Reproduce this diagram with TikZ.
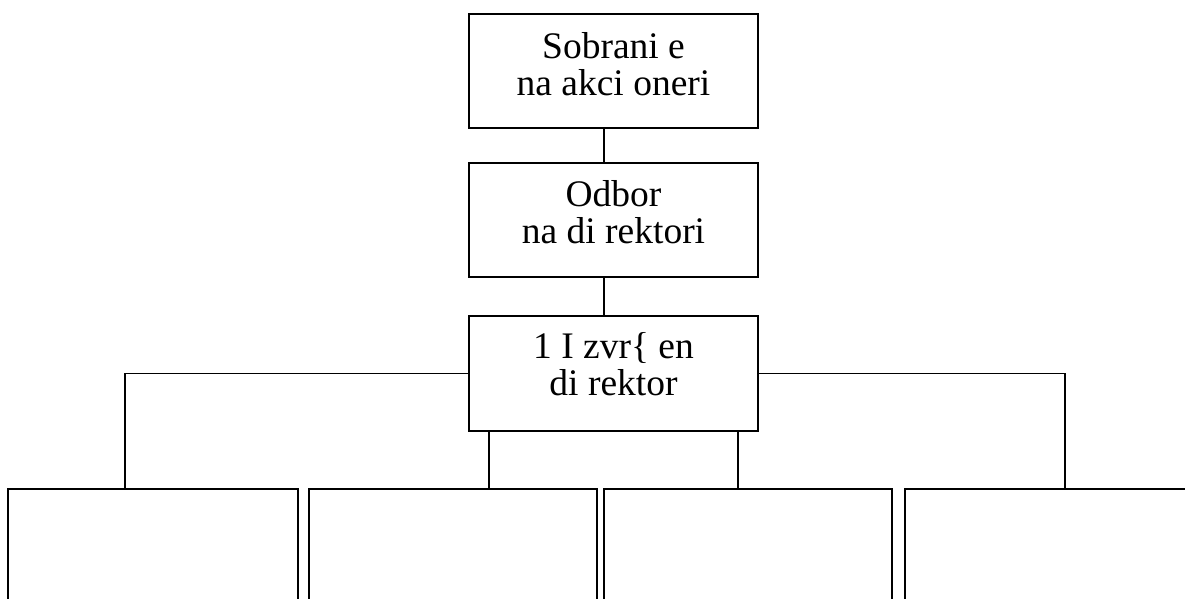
\documentclass[tikz,border=0pt]{standalone}
\usepackage{fontspec}
\setmainfont{Liberation Serif}

\begin{document}
\begin{tikzpicture}
[-,x=1pt,y=-1pt,line width=1.9pt,%
  every node/.style={shape=rectangle,inner sep=0pt},%
  box/.style={draw,minimum width=289pt,minimum height=114pt},%
  lowbox/.style={draw,minimum width=289pt,minimum height=160pt},%
  lbl/.style={align=center,font=\fontsize{37.5}{37}\selectfont}]
\useasboundingbox (0,0) rectangle (1185,599);
\clip (0,0) rectangle (1185,599);
% upper chain
\node[box] (sobranie) at (613.5,71) {};
\node[lbl] (sobranie-t) at ([yshift=7pt]sobranie.center) {Sobrani e\\na akci oneri};
\node[box] (odbor) at (613.5,220) {};
\node[lbl] (odbor-t) at ([yshift=8pt]odbor.center) {Odbor\\na di rektori};
\node[box,minimum height=115pt] (izvrsen) at (613.5,373.5) {};
\node[lbl] (izvrsen-t) at ([yshift=9pt]izvrsen.center) {1 I zvr\{ en\\di rektor};
% lower row
\node[lowbox,minimum width=290pt] (sektorA) at (153,569) {};
\node[lowbox,minimum width=288pt] (sektorB) at (453,569) {};
\node[lowbox,minimum width=288pt] (sektorC) at (748,569) {};
\node[lowbox,minimum width=290pt] (sektorD) at (1050,569) {};
% connectors
\draw ([xshift=-9.5pt]sobranie.south) -- ([xshift=-9.5pt]odbor.north);
\draw ([xshift=-9.5pt]odbor.south) -- ([xshift=-9.5pt]izvrsen.north);
\draw (izvrsen.west) -| ([xshift=-28pt]sektorA.north);
\draw (izvrsen.east) -| ([xshift=15pt]sektorD.north);
\draw ([xshift=36pt]sektorB.north) -- ([xshift=36pt]sektorB.north |- izvrsen.south);
\draw ([xshift=-10pt]sektorC.north) -- ([xshift=-10pt]sektorC.north |- izvrsen.south);
\end{tikzpicture}
\end{document}
